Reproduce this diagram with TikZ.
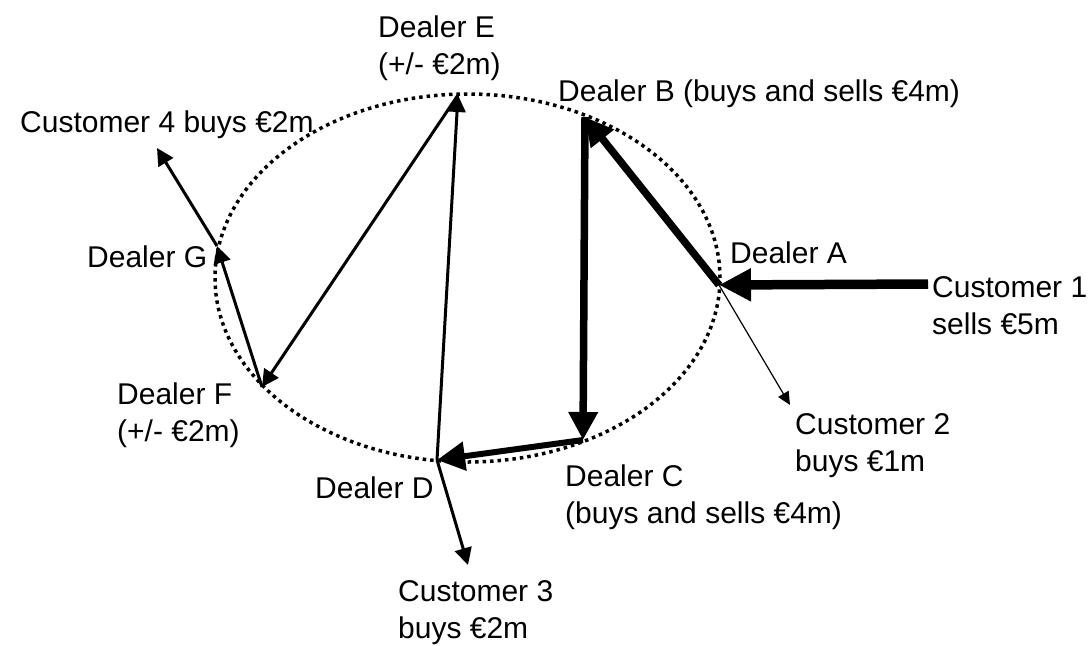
\documentclass[tikz,border=0pt]{standalone}
\usepackage{fontspec}
\setmainfont{Liberation Sans}
\usetikzlibrary{arrows.meta}
\begin{document}
\begin{tikzpicture}[x=1pt,y=-1pt]

       \tikzstyle{heavy} = [line width=9.5pt,-{Triangle[length=32pt,width=31pt]}]
       \tikzset{wide/.style = {line width=7.5pt, -{Triangle[length=28pt,width=28pt]}}, }
       \tikzset{flow/.style = {line width=3pt, -{Triangle[length=17pt,width=17pt]}}, }
       \tikzset{fine/.style = {line width=1.2pt, -{Triangle[length=13pt,width=12pt]}}, }
       \tikzset{lbl/.style = {inner sep=0pt, anchor=base west, font=\fontsize{30}{37}\selectfont}, }
       \tikzset{lbl2/.style = {lbl, anchor=north west, align=left}, }
       \useasboundingbox (0,0) rectangle (1091,645);

       \draw[line width=3.5pt, dash pattern=on 3.5pt off 4pt] (467.5,278) ellipse [x radius=252.5pt, y radius=184pt];

       \coordinate (A) at (719,285);
       \coordinate (B) at (585,117);
       \coordinate (C) at (583,440);
       \coordinate (D) at (437,460);
       \coordinate (E) at (458,95);
       \coordinate (F) at (262,387);
       \coordinate (G) at (217,246);
       \coordinate (c1) at (928,284);
       \coordinate (c2) at (790,405);
       \coordinate (c3) at (468,565);
       \coordinate (c4) at (157,148);

       \node[lbl2] (lE) at (378,16) {Dealer E\\(+/- €2m)};
       \node[lbl] (lB) at (558,101) {Dealer B (buys and sells €4m)};
       \node[lbl] (l4) at (20,132) {Customer 4 buys €2m};
       \node[lbl] (lG) at (87,267) {Dealer G};
       \node[lbl] (lA) at (730,263) {Dealer A};
       \node[lbl2] (l1) at (932,276) {Customer 1\\sells €5m};
       \node[lbl2] (lF) at (117,383) {Dealer F\\(+/- €2m)};
       \node[lbl2] (l2) at (795,413) {Customer 2\\buys €1m};
       \node[lbl2] (lC) at (565,465) {Dealer C\\(buys and sells €4m)};
       \node[lbl] (lD) at (315,498) {Dealer D};
       \node[lbl2] (l3) at (398,580) {Customer 3\\buys €2m};

       \path[draw]
       (c1) edge[heavy] (A)
       (A) edge[wide] (B)
       (B) edge[wide] (C)
       (C) edge[wide, line width=6pt] (D)
       (D) edge[flow] (E)
       (E) edge[flow] (F)
       (F) edge[flow] (G)
       (G) edge[flow] (c4)
       (D) edge[flow] (c3)
       (A) edge[fine] (c2);

\end{tikzpicture}
\end{document}
